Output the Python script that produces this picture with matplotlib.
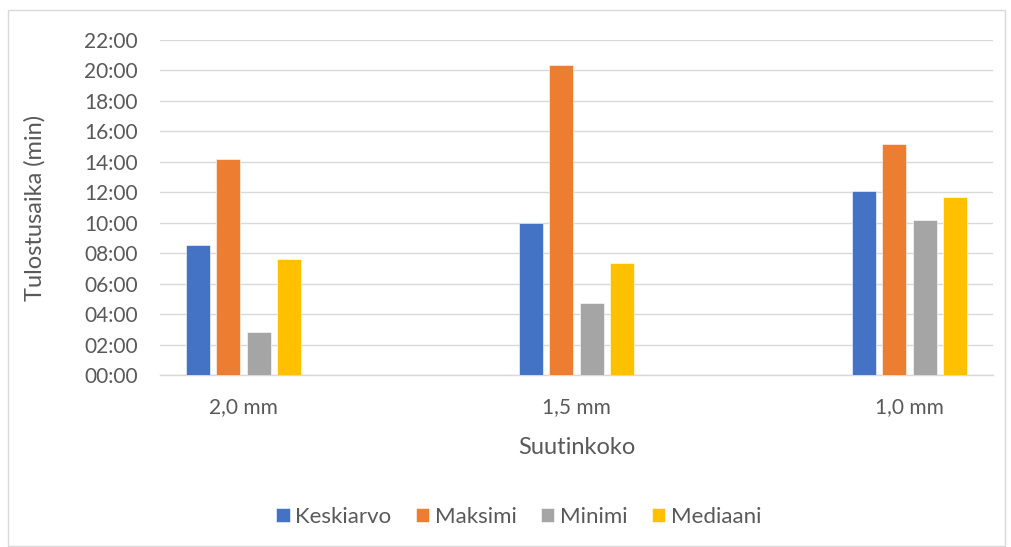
import matplotlib
matplotlib.use("Agg")
import matplotlib.pyplot as plt
from matplotlib.patches import Rectangle
from matplotlib.ticker import FuncFormatter, MultipleLocator
import numpy as np

plt.rcParams['font.family'] = ['Lato', 'DejaVu Sans']

# Nozzle sizes and printing times (mm:ss)
categories = ["2,0 mm", "1,5 mm", "1,0 mm"]
series_names = ["Keskiarvo", "Maksimi", "Minimi", "Mediaani"]
keskiarvo = ["08:32", "10:00", "12:05"]
maksimi = ["14:10", "20:21", "15:10"]
minimi = ["02:48", "04:45", "10:10"]
mediaani = ["07:37", "07:23", "11:43"]
colors = ["#4472C4", "#ED7D31", "#A5A5A5", "#FFC000"]


def to_minutes(s):
    m, sec = s.split(":")
    return int(m) + int(sec) / 60.0


def fmt_time(v, pos=None):
    total = int(round(v * 60))
    return f"{total // 60:02d}:{total % 60:02d}"


series = [keskiarvo, maksimi, minimi, mediaani]
text_col = "#595959"
grid_col = "#D9D9D9"

fig = plt.figure(figsize=(10.11, 5.47), dpi=100)
fig.patches.append(Rectangle((8 / 1011, 0.002), 997 / 1011, 1 - 10 / 547 - 0.002,
                             transform=fig.transFigure, fill=False,
                             edgecolor=grid_col, linewidth=1.0))

ax = fig.add_axes([160 / 1011, 1 - 375 / 547, 833 / 1011, 335 / 547])

x = np.arange(len(categories))
width = 0.072
step = 0.0915
for i, (name, vals, c) in enumerate(zip(series_names, series, colors)):
    offs = (i - 1.5) * step
    ax.bar(x + offs, [to_minutes(v) for v in vals], width=width, color=c,
           label=name, edgecolor="white", linewidth=0.4, zorder=3)

ax.set_xlim(-0.25, 2.25)
ax.set_ylim(0, 22)
ax.yaxis.set_major_locator(MultipleLocator(2))
ax.yaxis.set_major_formatter(FuncFormatter(fmt_time))
ax.set_xticks(x)
ax.set_xticklabels(categories)
ax.grid(axis="y", color=grid_col, linewidth=1.0, zorder=0)
for sp in ["top", "right", "left"]:
    ax.spines[sp].set_visible(False)
ax.spines["bottom"].set_color(grid_col)
ax.spines["bottom"].set_linewidth(1.0)
ax.tick_params(axis="both", length=0, colors=text_col, labelsize=15)
ax.tick_params(axis="x", pad=16)
ax.tick_params(axis="y", pad=16)

ax.set_ylabel("Tulostusaika (min)", color=text_col, fontsize=17, labelpad=28)
ax.set_xlabel("Suutinkoko", color=text_col, fontsize=17, labelpad=14)

leg = fig.legend(loc="center", bbox_to_anchor=(519 / 1011, 1 - 517 / 547),
                 ncol=4, frameon=False, fontsize=16, handlelength=0.6,
                 handleheight=0.6, handletextpad=0.25, columnspacing=1.1)
for t in leg.get_texts():
    t.set_color(text_col)

fig.savefig("out.png", dpi=100)
